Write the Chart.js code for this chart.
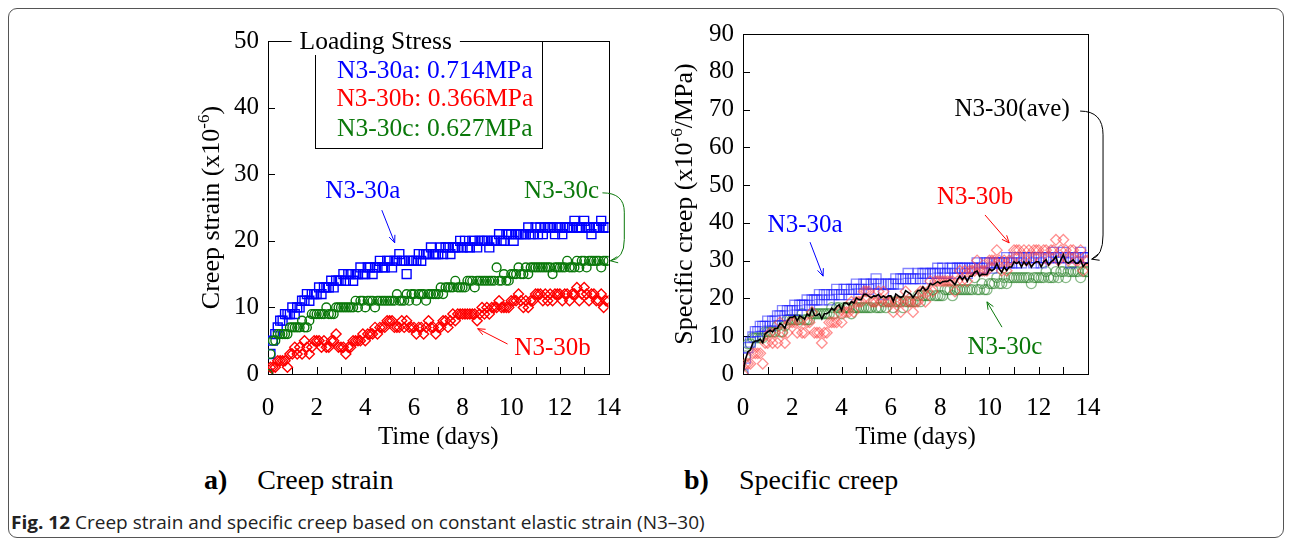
<!DOCTYPE html>
<html>
<head>
<meta charset="utf-8">
<script src="https://cdn.jsdelivr.net/npm/chart.js@4.4.1/dist/chart.umd.min.js"></script>
<style>
  html, body { margin: 0; padding: 0; background: #fff; }
  body { width: 1290px; height: 539px; position: relative; overflow: hidden; font-family: "Liberation Serif", serif; }
  #frame { position: absolute; left: 8px; top: 8px; width: 1276px; height: 530px; border: 1px solid #555; border-radius: 9px; box-sizing: border-box; }
  canvas { position: absolute; }
  .sub { position: absolute; top: 464px; font-family: "Liberation Serif", serif; font-size: 28px; color: #000; white-space: nowrap; }
  .sub b { margin-right: 30px; }
  #caption { position: absolute; left: 11px; top: 510px; font-family: "Open Sans", sans-serif; font-size: 18px; color: #222; white-space: nowrap; transform-origin: 0 0; }
</style>
</head>
<body>
<div id="frame"></div>
<canvas id="left" width="480" height="460" style="left:160px;top:0px;width:480px;height:460px"></canvas>
<canvas id="right" width="480" height="460" style="left:640px;top:0px;width:480px;height:460px"></canvas>
<div class="sub" style="left:204px"><b>a)</b>Creep strain</div>
<div class="sub" style="left:684px"><b>b)</b>Specific creep</div>
<div id="caption"><b>Fig. 12</b> Creep strain and specific creep based on constant elastic strain (N3–30)</div>
<script>
// ---------------- DATA ----------------
const timeStep = 0.1; // days between readings
const xTicks = [0, 2, 4, 6, 8, 10, 12, 14];
const seriesNames = ["N3-30a", "N3-30b", "N3-30c"];
const loadingStress = [0.714, 0.366, 0.627]; // MPa

// creep strain (x10^-6), t = 0.0 ... 14.0 days
const strainA = [
  0,3,5,6,7,8,8,9,9,9,
  10,9,10,10,11,11,12,11,12,12,
  12,13,12,13,13,13,14,13,14,14,
  14,15,14,15,15,14,15,15,16,15,
  15,16,16,15,16,16,17,16,16,17,
  17,16,17,17,18,17,17,15,17,17,
  17,17,18,17,18,18,18,19,18,18,
  18,19,18,19,19,18,19,19,19,20,
  19,20,19,19,20,20,19,20,20,20,
  20,19,20,20,20,21,20,20,21,21,
  21,20,21,21,21,21,21,22,21,21,
  22,21,22,21,22,22,22,22,21,22,
  22,21,22,22,22,22,23,22,22,22,
  23,22,22,21,22,22,22,23,22,22,
  22
];
const strainB = [
  0,1,1,1,2,2,2,2,1,3,
  3,4,3,4,3,5,4,3,4,5,
  5,5,4,5,4,4,5,5,6,4,
  4,4,3,4,4,5,5,5,5,6,
  5,6,6,6,7,6,7,7,7,8,
  8,8,7,7,7,8,7,8,7,7,
  7,6,7,7,6,7,8,7,7,6,
  7,7,8,8,7,8,9,8,9,9,
  9,9,9,9,9,9,8,9,10,9,
  10,9,10,10,10,11,10,10,10,10,
  11,11,11,12,11,10,11,10,11,11,
  12,12,12,11,12,11,12,11,12,12,
  12,11,12,12,11,12,12,13,11,12,
  13,12,11,12,12,11,11,12,10,11,
  11
];
const strainC = [
  0,3,5,5,6,6,6,6,6,7,
  7,7,7,7,8,7,7,8,9,9,
  9,9,9,9,10,9,9,9,10,10,
  10,10,10,10,10,10,11,10,11,11,
  10,11,11,11,10,11,11,11,11,11,
  11,11,11,12,11,11,11,12,11,12,
  12,11,12,12,12,11,12,12,12,12,
  12,13,12,13,13,13,13,14,13,13,
  13,13,14,14,14,13,14,14,14,14,
  14,14,14,14,16,14,14,15,14,14,
  15,15,15,16,15,15,16,15,16,16,
  16,16,16,16,16,16,16,15,16,16,
  16,16,16,17,16,16,16,17,16,17,
  17,16,17,17,17,17,17,16,17,17,
  17
];

// ---------------- derived ----------------
const days = strainA.map((_, i) => +(i * timeStep).toFixed(1));
const strains = [strainA, strainB, strainC];
const specific = strains.map((s, k) => s.map(v => v / loadingStress[k]));
const specificAve = days.map((_, i) => (specific[0][i] + specific[1][i] + specific[2][i]) / 3);
const pts = arr => arr.map((v, i) => ({ x: days[i], y: v }));

const SERIF = "Liberation Serif";
const BLUE = "#0000ff", RED = "#ff0000", GREEN = "#0a780a";

// ---------------- plugin: frame, inward ticks, titles, annotations ----------------
function arrowHead(ctx, x0, y0, x1, y1, len) {
  const a = Math.atan2(y1 - y0, x1 - x0);
  ctx.beginPath();
  ctx.moveTo(x1 - len * Math.cos(a - 0.4), y1 - len * Math.sin(a - 0.4));
  ctx.lineTo(x1, y1);
  ctx.lineTo(x1 - len * Math.cos(a + 0.4), y1 - len * Math.sin(a + 0.4));
  ctx.stroke();
}

const decorPlugin = {
  id: "decor",
  beforeDatasetsDraw(chart, args, o) {
    const { ctx, chartArea: a, scales: { x, y } } = chart;
    ctx.save();
    ctx.strokeStyle = "#000";
    ctx.lineWidth = 1;
    ctx.strokeRect(Math.round(a.left) + 0.5, Math.round(a.top) + 0.5, Math.round(a.right - a.left), Math.round(a.bottom - a.top));
    ctx.beginPath();
    for (let t = 1; t < 14; t++) {
      const px = Math.round(x.getPixelForValue(t)) + 0.5;
      ctx.moveTo(px, a.bottom); ctx.lineTo(px, a.bottom - 7);
    }
    for (let v = o.yStep; v < o.yMax; v += o.yStep) {
      const py = Math.round(y.getPixelForValue(v)) + 0.5;
      ctx.moveTo(a.left, py); ctx.lineTo(a.left + 7, py);
    }
    ctx.stroke();
    ctx.restore();
  },
  afterDraw(chart, args, o) {
    const { ctx, chartArea: a, scales: { x, y } } = chart;
    const X = v => x.getPixelForValue(v), Y = v => y.getPixelForValue(v);
    ctx.save();
    // y axis title with superscript, centred on the axis
    ctx.translate(o.yTitleX, (a.top + a.bottom) / 2);
    ctx.rotate(-Math.PI / 2);
    ctx.fillStyle = "#000";
    ctx.textBaseline = "alphabetic";
    const big = "26px " + SERIF, small = "17px " + SERIF;
    ctx.font = big; const w1 = ctx.measureText(o.yTitle[0]).width; const w3 = ctx.measureText(o.yTitle[2]).width;
    ctx.font = small; const w2 = ctx.measureText(o.yTitle[1]).width;
    let sx = -(w1 + w2 + w3) / 2;
    ctx.font = big; ctx.fillText(o.yTitle[0], sx, 9);
    ctx.font = small; ctx.fillText(o.yTitle[1], sx + w1, -1);
    ctx.font = big; ctx.fillText(o.yTitle[2], sx + w1 + w2, 9);
    ctx.restore();

    ctx.save();
    ctx.font = "25px " + SERIF;
    ctx.fillStyle = "#000"; ctx.textAlign = "center"; ctx.textBaseline = "middle";
    ctx.fillText("Time (days)", (a.left + a.right) / 2, a.bottom + 63);

    // legend box
    if (o.legend) {
      const L = o.legend;
      ctx.strokeStyle = "#000"; ctx.lineWidth = 1;
      const lx = Math.round(X(L.x0)) + 0.5, rx = Math.round(X(L.x1)) + 0.5, by = Math.round(Y(L.yb)) + 0.5;
      ctx.strokeRect(lx, Math.round(a.top) + 0.5, rx - lx, by - Math.round(a.top) - 0.5);
      ctx.font = "25.5px " + SERIF;
      const tw = ctx.measureText(L.title).width;
      const tx = X(L.titleX);
      ctx.fillStyle = "#fff";
      ctx.fillRect(tx - tw / 2 - 8, a.top - 14, tw + 16, 28);
      ctx.fillStyle = "#000";
      ctx.fillText(L.title, tx, a.top + 1);
      L.rows.forEach(r => { ctx.fillStyle = r.color; ctx.fillText(r.text, X(L.rowX), Y(r.y)); });
    }

    // annotations
    (o.notes || []).forEach(n => {
      ctx.font = "25px " + SERIF;
      ctx.fillStyle = n.color; ctx.strokeStyle = n.color; ctx.lineWidth = 1;
      ctx.fillText(n.text, X(n.at[0]), Y(n.at[1]));
      if (n.path) {
        ctx.beginPath();
        let last = null, prev = null;
        n.path.forEach(seg => {
          const p = seg.p.map(q => [X(q[0]), Y(q[1])]);
          if (seg.t === "M") ctx.moveTo(p[0][0], p[0][1]);
          else if (seg.t === "L") ctx.lineTo(p[0][0], p[0][1]);
          else if (seg.t === "Q") ctx.quadraticCurveTo(p[0][0], p[0][1], p[1][0], p[1][1]);
          prev = p.length > 1 ? p[p.length - 2] : last;
          last = p[p.length - 1];
        });
        ctx.stroke();
        arrowHead(ctx, prev[0], prev[1], last[0], last[1], 8);
      }
    });
    ctx.restore();
  }
};

function fixedScales(yMax, yWidth) {
  return {
    x: {
      type: "linear", min: 0, max: 14,
      afterBuildTicks: s => { s.ticks = xTicks.map(v => ({ value: v })); },
      afterFit: s => { s.height = 86; },
      grid: { display: false, drawTicks: false },
      border: { display: false },
      ticks: { font: { family: SERIF, size: 25 }, color: "#000", padding: 19, maxRotation: 0 }
    },
    y: {
      min: 0, max: yMax,
      afterFit: s => { s.width = yWidth; },
      grid: { display: false, drawTicks: false },
      border: { display: false },
      ticks: { stepSize: 10, font: { family: SERIF, size: 25 }, color: "#000", padding: 9 }
    }
  };
}

const baseOpts = {
  responsive: false, animation: false, devicePixelRatio: 1,
  plugins: { legend: { display: false }, tooltip: { enabled: false } }
};

// ---------------- left: creep strain ----------------
new Chart(document.getElementById("left"), {
  type: "scatter",
  data: {
    datasets: [
      { label: seriesNames[2], data: pts(strainC), pointStyle: "circle", pointRadius: 4.4, borderColor: GREEN, backgroundColor: "rgba(0,0,0,0)", borderWidth: 1.4 },
      { label: seriesNames[1], data: pts(strainB), pointStyle: "rectRot", pointRadius: 5, borderColor: RED, backgroundColor: "rgba(0,0,0,0)", borderWidth: 1.4 },
      { label: seriesNames[0], data: pts(strainA), pointStyle: "rect", pointRadius: 6.3, borderColor: BLUE, backgroundColor: "rgba(0,0,0,0)", borderWidth: 1.4 }
    ]
  },
  options: Object.assign({}, baseOpts, {
    layout: { padding: { top: 41, right: 31, left: 0, bottom: 0 } },
    scales: fixedScales(50, 108),
    plugins: Object.assign({}, baseOpts.plugins, {
      decor: {
        yStep: 10, yMax: 50,
        yTitle: ["Creep strain (x10", "-6", ")"], yTitleX: 50,
        legend: {
          x0: 1.93, x1: 11.25, yb: 34.0, title: "Loading Stress", titleX: 4.43, rowX: 6.86,
          rows: [
            { text: "N3-30a: 0.714MPa", color: BLUE, y: 45.4 },
            { text: "N3-30b: 0.366MPa", color: RED, y: 41.2 },
            { text: "N3-30c: 0.627MPa", color: GREEN, y: 36.8 }
          ]
        },
        notes: [
          { text: "N3-30a", color: BLUE, at: [3.9, 27.4], path: [{ t: "M", p: [[4.68, 24.6]] }, { t: "L", p: [[5.21, 19.7]] }] },
          { text: "N3-30b", color: RED, at: [11.7, 3.9], path: [{ t: "M", p: [[9.85, 4.5]] }, { t: "L", p: [[8.62, 6.8]] }] },
          { text: "N3-30c", color: GREEN, at: [12.07, 27.4], path: [
            { t: "M", p: [[13.75, 27.2]] },
            { t: "Q", p: [[14.65, 27.2], [14.65, 24.3]] },
            { t: "L", p: [[14.65, 20.2]] },
            { t: "Q", p: [[14.65, 17.3], [14.08, 17.0]] }
          ] }
        ]
      }
    })
  }),
  plugins: [decorPlugin]
});

// ---------------- right: specific creep ----------------
new Chart(document.getElementById("right"), {
  type: "scatter",
  data: {
    datasets: [
      { label: "N3-30(ave)", data: pts(specificAve), showLine: true, pointRadius: 0, borderColor: "#000", borderWidth: 1.6, tension: 0 },
      { label: seriesNames[1], data: pts(specific[1]), pointStyle: "rectRot", pointRadius: 5.3, borderColor: "rgba(255,70,70,0.6)", backgroundColor: "rgba(0,0,0,0)", borderWidth: 1.3 },
      { label: seriesNames[0], data: pts(specific[0]), pointStyle: "rect", pointRadius: 7, borderColor: "rgba(30,30,255,0.55)", backgroundColor: "rgba(0,0,0,0)", borderWidth: 1.3 },
      { label: seriesNames[2], data: pts(specific[2]), pointStyle: "circle", pointRadius: 5, borderColor: "rgba(40,130,40,0.55)", backgroundColor: "rgba(0,0,0,0)", borderWidth: 1.3 }
    ]
  },
  options: Object.assign({}, baseOpts, {
    layout: { padding: { top: 34, right: 32, left: 0, bottom: 0 } },
    scales: fixedScales(90, 103),
    plugins: Object.assign({}, baseOpts.plugins, {
      decor: {
        yStep: 10, yMax: 90,
        yTitle: ["Specific creep (x10", "-6", "/MPa)"], yTitleX: 43,
        notes: [
          { text: "N3-30(ave)", color: "#000", at: [10.92, 70.1], path: [
            { t: "M", p: [[13.68, 69.6]] },
            { t: "Q", p: [[14.61, 69.6], [14.61, 63.3]] },
            { t: "L", p: [[14.61, 36.8]] },
            { t: "Q", p: [[14.61, 31.2], [14.15, 30.4]] }
          ] },
          { text: "N3-30b", color: RED, at: [9.42, 46.8], path: [{ t: "M", p: [[9.82, 42.1]] }, { t: "L", p: [[10.8, 34.7]] }] },
          { text: "N3-30a", color: BLUE, at: [2.52, 39.4], path: [{ t: "M", p: [[2.72, 34.9]] }, { t: "L", p: [[3.25, 25.9]] }] },
          { text: "N3-30c", color: GREEN, at: [10.63, 7.1], path: [{ t: "M", p: [[10.51, 12.4]] }, { t: "L", p: [[9.9, 19.1]] }] }
        ]
      }
    })
  }),
  plugins: [decorPlugin]
});

// fit caption to its width in the figure
const cap = document.getElementById("caption");
const capW = cap.getBoundingClientRect().width;
cap.style.transform = "scaleX(" + (694 / capW).toFixed(3) + ")";
</script>
</body>
</html>
